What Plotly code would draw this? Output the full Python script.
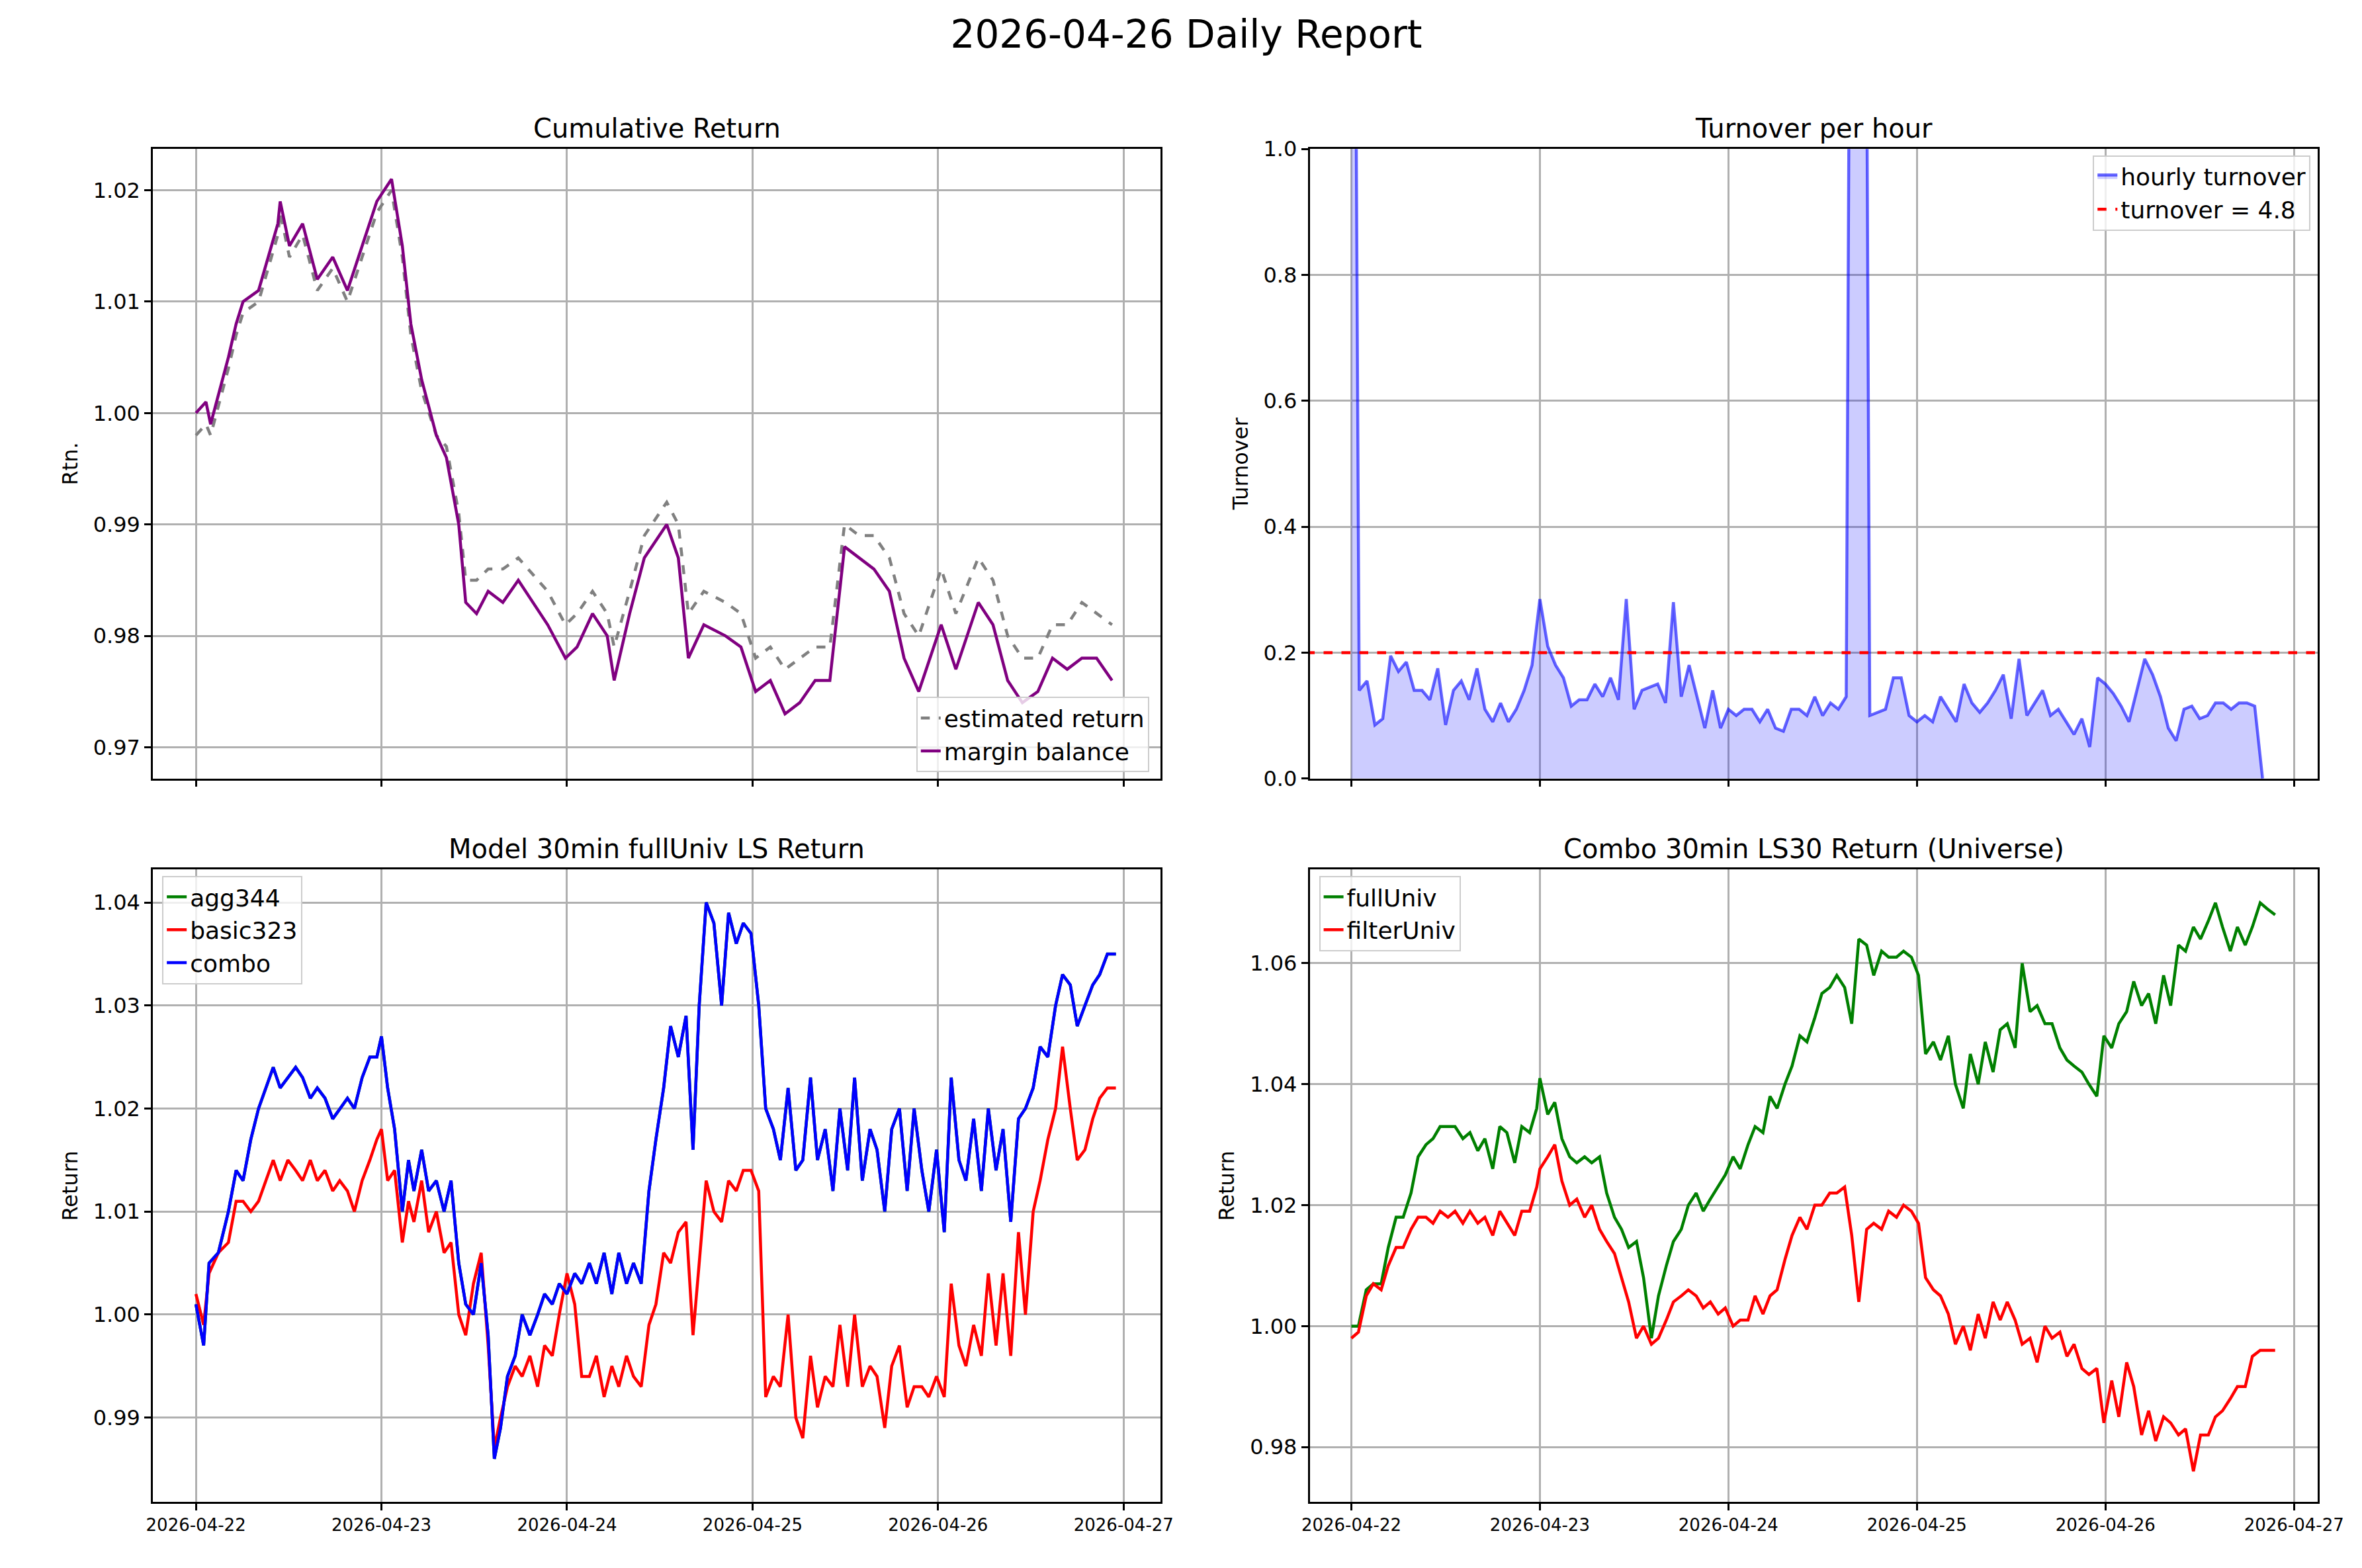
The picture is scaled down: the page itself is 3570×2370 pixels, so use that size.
import pandas as pd
import plotly.graph_objects as go
from plotly.subplots import make_subplots

# ---- data ----
T0 = pd.Timestamp("2026-04-22 00:00")

cum_hours = [0, 1.3, 1.9, 4.2, 5.2, 6.1, 8.1, 10.6, 10.9, 12.1, 13.8, 15.7, 17.7, 19.6, 21.5, 23.4, 25.3, 26.7,
             27.8, 29.2, 31.1, 32.4, 34, 34.9, 36.3, 37.8, 39.7, 41.7, 45.5, 47.8, 49.3, 51.3, 53.2, 54.1, 56.1,
             58, 60.9, 62.4, 63.7, 65.7, 68.5, 70.5, 72.4, 74.3, 76.2, 78.1, 80.1, 82, 83.9, 85.8, 87.7, 89.7,
             91.6, 93.5, 96.4, 98.3, 101.2, 103.1, 105, 106.9, 108.9, 110.8, 112.7, 114.6, 116.5, 118.5]
margin_balance = [1.000, 1.001, 0.999, 1.005, 1.008, 1.010, 1.011, 1.017, 1.019, 1.015, 1.017, 1.012, 1.014, 1.011,
                  1.015, 1.019, 1.021, 1.015, 1.008, 1.003, 0.998, 0.996, 0.990, 0.983, 0.982, 0.984, 0.983, 0.985,
                  0.981, 0.978, 0.979, 0.982, 0.980, 0.976, 0.982, 0.987, 0.990, 0.987, 0.978, 0.981, 0.980, 0.979,
                  0.975, 0.976, 0.973, 0.974, 0.976, 0.976, 0.988, 0.987, 0.986, 0.984, 0.978, 0.975, 0.981, 0.977,
                  0.983, 0.981, 0.976, 0.974, 0.975, 0.978, 0.977, 0.978, 0.978, 0.976]
estimated_return = [0.998, 0.999, 0.998, 1.004, 1.007, 1.009, 1.010, 1.016, 1.018, 1.014, 1.016, 1.011, 1.013, 1.010,
                    1.014, 1.018, 1.020, 1.014, 1.007, 1.002, 0.998, 0.997, 0.991, 0.985, 0.985, 0.986, 0.986, 0.987,
                    0.984, 0.981, 0.982, 0.984, 0.982, 0.979, 0.984, 0.989, 0.992, 0.990, 0.982, 0.984, 0.983, 0.982,
                    0.978, 0.979, 0.977, 0.978, 0.979, 0.979, 0.990, 0.989, 0.989, 0.987, 0.982, 0.980, 0.986, 0.982,
                    0.987, 0.985, 0.980, 0.978, 0.978, 0.981, 0.981, 0.983, 0.982, 0.981]

hourly_turnover = [2.5, 0.14, 0.155, 0.085, 0.095, 0.195, 0.17, 0.185, 0.14, 0.14, 0.125, 0.175, 0.085, 0.14, 0.155,
                   0.125, 0.175, 0.11, 0.09, 0.12, 0.09, 0.11, 0.14, 0.18, 0.285, 0.21, 0.18, 0.16, 0.115, 0.125,
                   0.125, 0.15, 0.13, 0.16, 0.125, 0.285, 0.11, 0.14, 0.145, 0.15, 0.12, 0.28, 0.13, 0.18, 0.13,
                   0.08, 0.14, 0.08, 0.11, 0.1, 0.11, 0.11, 0.09, 0.11, 0.08, 0.075, 0.11, 0.11, 0.1, 0.13, 0.1,
                   0.12, 0.11, 0.13, 2.8, 2.8,
                   0.1, 0.105, 0.11, 0.16, 0.16, 0.1, 0.09, 0.1, 0.09, 0.13, 0.11, 0.09, 0.15, 0.12, 0.105, 0.12,
                   0.14, 0.165, 0.095, 0.19, 0.1, 0.12, 0.14, 0.1, 0.11, 0.09, 0.07, 0.095, 0.05, 0.16, 0.15, 0.135,
                   0.115, 0.09, 0.14, 0.19, 0.165, 0.13, 0.08, 0.06, 0.11, 0.115, 0.095, 0.1, 0.12, 0.12, 0.11, 0.12,
                   0.12, 0.115, 0.0]
turnover_limit = 0.2

model_hours = [0, 1, 1.7, 2.9, 4.2, 5.2, 6.1, 7.1, 8.1, 9, 10, 10.9, 11.9, 12.9, 13.8, 14.8, 15.7, 16.7, 17.7, 18.6,
               19.6, 20.5, 21.5, 22.5, 23.4, 24, 24.8, 25.7, 26.7, 27.5, 28.2, 29.2, 30.1, 31.1, 32.1, 33, 34, 34.9,
               35.9, 36.9, 37.8, 38.6, 39.4, 40.3, 41.3, 42.2, 43.2, 44.2, 45.1, 46.1, 47, 48, 49, 49.9, 50.9, 51.8,
               52.8, 53.8, 54.7, 55.7, 56.6, 57.6, 58.6, 59.5, 60.5, 61.4, 62.4, 63.4, 64.3, 65.1, 66, 67, 68, 68.9,
               69.9, 70.8, 71.8, 72.8, 73.7, 74.7, 75.6, 76.6, 77.6, 78.5, 79.5, 80.4, 81.4, 82.4, 83.3, 84.3, 85.2,
               86.2, 87.2, 88.1, 89.1, 90, 91, 92, 92.9, 93.9, 94.8, 95.8, 96.8, 97.7, 98.7, 99.6, 100.6, 101.6,
               102.5, 103.5, 104.4, 105.4, 106.4, 107.3, 108.3, 109.2, 110.2, 111.2, 112.1, 113.1, 114, 115, 116,
               116.9, 117.9, 119]
combo = [1.001, 0.997, 1.005, 1.006, 1.010, 1.014, 1.013, 1.017, 1.020, 1.022, 1.024, 1.022, 1.023, 1.024, 1.023,
         1.021, 1.022, 1.021, 1.019, 1.020, 1.021, 1.020, 1.023, 1.025, 1.025, 1.027, 1.022, 1.018, 1.010, 1.015,
         1.012, 1.016, 1.012, 1.013, 1.010, 1.013, 1.005, 1.001, 1.000, 1.005, 0.998, 0.986, 0.989, 0.994, 0.996,
         1.000, 0.998, 1.000, 1.002, 1.001, 1.003, 1.002, 1.004, 1.003, 1.005, 1.003, 1.006, 1.002, 1.006, 1.003,
         1.005, 1.003, 1.012, 1.017, 1.022, 1.028, 1.025, 1.029, 1.016, 1.030, 1.040, 1.038, 1.030, 1.039, 1.036,
         1.038, 1.037, 1.030, 1.020, 1.018, 1.015, 1.022, 1.014, 1.015, 1.023, 1.015, 1.018, 1.012, 1.020, 1.014,
         1.023, 1.013, 1.018, 1.016, 1.010, 1.018, 1.020, 1.012, 1.020, 1.014, 1.010, 1.016, 1.008, 1.023, 1.015,
         1.013, 1.019, 1.012, 1.020, 1.014, 1.018, 1.009, 1.019, 1.020, 1.022, 1.026, 1.025, 1.030, 1.033, 1.032,
         1.028, 1.030, 1.032, 1.033, 1.035, 1.035]
agg344 = list(combo)  # hidden underneath combo in the reference
basic323 = [1.002, 0.999, 1.004, 1.006, 1.007, 1.011, 1.011, 1.010, 1.011, 1.013, 1.015, 1.013, 1.015, 1.014, 1.013,
            1.015, 1.013, 1.014, 1.012, 1.013, 1.012, 1.010, 1.013, 1.015, 1.017, 1.018, 1.013, 1.014, 1.007, 1.011,
            1.009, 1.013, 1.008, 1.010, 1.006, 1.007, 1.000, 0.998, 1.003, 1.006, 0.997, 0.987, 0.990, 0.993, 0.995,
            0.994, 0.996, 0.993, 0.997, 0.996, 1.000, 1.004, 1.001, 0.994, 0.994, 0.996, 0.992, 0.995, 0.993, 0.996,
            0.994, 0.993, 0.999, 1.001, 1.006, 1.005, 1.008, 1.009, 0.998, 1.005, 1.013, 1.010, 1.009, 1.013, 1.012,
            1.014, 1.014, 1.012, 0.992, 0.994, 0.993, 1.000, 0.990, 0.988, 0.996, 0.991, 0.994, 0.993, 0.999, 0.993,
            1.000, 0.993, 0.995, 0.994, 0.989, 0.995, 0.997, 0.991, 0.993, 0.993, 0.992, 0.994, 0.992, 1.003, 0.997,
            0.995, 0.999, 0.996, 1.004, 0.997, 1.004, 0.996, 1.008, 1.000, 1.010, 1.013, 1.017, 1.020, 1.026, 1.020,
            1.015, 1.016, 1.019, 1.021, 1.022, 1.022]

univ_hours = [0, 0.9, 1.9, 2.8, 3.8, 4.7, 5.7, 6.6, 7.6, 8.5, 9.5, 10.4, 11.3, 12.3, 13.2, 14.2, 15.1, 16.1, 17, 18,
              18.9, 19.8, 20.8, 21.7, 22.7, 23.6, 24.0,
              25.0, 25.9, 26.8, 27.8, 28.7, 29.7, 30.6, 31.6, 32.5, 33.5, 34.4, 35.3, 36.3, 37.2, 38.2, 39.1, 40.1,
              41.0, 42.0, 42.9, 43.9, 44.8, 45.7, 46.7, 47.6, 48.6, 49.5, 50.5, 51.4, 52.4, 53.3, 54.2, 55.2, 56.1,
              57.1, 58.0, 59.0, 59.9, 60.9, 61.8, 62.8, 63.7, 64.6, 65.6, 66.5, 67.5, 68.4, 69.4, 70.3, 71.3, 72.2,
              73.1, 74.1, 75.0, 76.0, 76.9, 77.9, 78.8, 79.8, 80.7, 81.7, 82.6, 83.5, 84.5, 85.4, 86.4, 87.3, 88.3,
              89.2, 90.2, 91.1, 92.0, 93.0, 93.9, 94.9, 95.8, 96.8, 97.7, 98.7, 99.6, 100.6, 101.5, 102.4, 103.4,
              104.3, 105.3, 106.2, 107.2, 108.1, 109.1, 110.0, 110.9, 111.9, 112.8, 113.8, 114.7, 115.7, 116.6, 117.6]
full_univ = [1.000, 1.000, 1.006, 1.007, 1.007, 1.013, 1.018, 1.018, 1.022, 1.028, 1.030, 1.031, 1.033, 1.033, 1.033,
             1.031, 1.032, 1.029, 1.031, 1.026, 1.033, 1.032, 1.027, 1.033, 1.032, 1.036, 1.041, 1.035, 1.037, 1.031,
             1.028, 1.027, 1.028, 1.027, 1.028, 1.022, 1.018, 1.016, 1.013, 1.014, 1.008, 0.998, 1.005, 1.010, 1.014,
             1.016, 1.020, 1.022, 1.019, 1.021, 1.023, 1.025, 1.028, 1.026, 1.030, 1.033, 1.032, 1.038, 1.036, 1.040,
             1.043, 1.048, 1.047, 1.051, 1.055, 1.056, 1.058, 1.056, 1.050, 1.064, 1.063, 1.058, 1.062, 1.061, 1.061,
             1.062, 1.061, 1.058, 1.045, 1.047, 1.044, 1.048, 1.040, 1.036, 1.045, 1.040, 1.047, 1.042, 1.049, 1.050,
             1.046, 1.060, 1.052, 1.053, 1.050, 1.050, 1.046, 1.044, 1.043, 1.042, 1.040, 1.038, 1.048, 1.046, 1.050,
             1.052, 1.057, 1.053, 1.055, 1.050, 1.058, 1.053, 1.063, 1.062, 1.066, 1.064, 1.067, 1.070, 1.066, 1.062,
             1.066, 1.063, 1.066, 1.070, 1.069, 1.068]
filter_univ = [0.998, 0.999, 1.005, 1.007, 1.006, 1.010, 1.013, 1.013, 1.016, 1.018, 1.018, 1.017, 1.019, 1.018,
               1.019, 1.017, 1.019, 1.017, 1.018, 1.015, 1.019, 1.017, 1.015, 1.019, 1.019, 1.023, 1.026, 1.028,
               1.030, 1.024, 1.020, 1.021, 1.018, 1.020, 1.016, 1.014, 1.012, 1.008, 1.004, 0.998, 1.000, 0.997,
               0.998, 1.001, 1.004, 1.005, 1.006, 1.005, 1.003, 1.004, 1.002, 1.003, 1.000, 1.001, 1.001, 1.005,
               1.002, 1.005, 1.006, 1.011, 1.015, 1.018, 1.016, 1.020, 1.020, 1.022, 1.022, 1.023, 1.015, 1.004,
               1.016, 1.017, 1.016, 1.019, 1.018, 1.020, 1.019, 1.017, 1.008, 1.006, 1.005, 1.002, 0.997, 1.000,
               0.996, 1.002, 0.998, 1.004, 1.001, 1.004, 1.001, 0.997, 0.998, 0.994, 1.000, 0.998, 0.999, 0.995,
               0.997, 0.993, 0.992, 0.993, 0.984, 0.991, 0.985, 0.994, 0.990, 0.982, 0.986, 0.981, 0.985, 0.984,
               0.982, 0.983, 0.976, 0.982, 0.982, 0.985, 0.986, 0.988, 0.990, 0.990, 0.995, 0.996, 0.996, 0.996]


def to_time(hours):
    return T0 + pd.to_timedelta(hours, unit="h")


LW = 4.5
fig = make_subplots(rows=2, cols=2,
                    subplot_titles=("Cumulative Return", "Turnover per hour",
                                    "Model 30min fullUniv LS Return", "Combo 30min LS30 Return (Universe)"))

# Cumulative return
fig.add_trace(go.Scatter(x=to_time(cum_hours), y=estimated_return, mode="lines", name="estimated return",
                         line=dict(color="gray", width=LW, dash="dash"), legend="legend"), row=1, col=1)
fig.add_trace(go.Scatter(x=to_time(cum_hours), y=margin_balance, mode="lines", name="margin balance",
                         line=dict(color="purple", width=LW), legend="legend"), row=1, col=1)

# Turnover
t_hours = list(range(len(hourly_turnover)))
fig.add_trace(go.Scatter(x=to_time(t_hours), y=hourly_turnover, mode="lines", name="hourly turnover",
                         line=dict(color="rgba(0,0,255,0.6)", width=LW), fill="tozeroy",
                         fillcolor="rgba(0,0,255,0.2)", legend="legend2"), row=1, col=2)
fig.add_trace(go.Scatter(x=[pd.Timestamp("2026-04-21"), pd.Timestamp("2026-04-28")],
                         y=[turnover_limit, turnover_limit], mode="lines", name="turnover = 4.8",
                         line=dict(color="red", width=LW, dash="dash"), legend="legend2"), row=1, col=2)

# Model returns
fig.add_trace(go.Scatter(x=to_time(model_hours), y=agg344, mode="lines", name="agg344",
                         line=dict(color="green", width=LW), legend="legend3"), row=2, col=1)
fig.add_trace(go.Scatter(x=to_time(model_hours), y=basic323, mode="lines", name="basic323",
                         line=dict(color="red", width=LW), legend="legend3"), row=2, col=1)
fig.add_trace(go.Scatter(x=to_time(model_hours), y=combo, mode="lines", name="combo",
                         line=dict(color="blue", width=LW), legend="legend3"), row=2, col=1)

# Universe returns
fig.add_trace(go.Scatter(x=to_time(univ_hours), y=full_univ, mode="lines", name="fullUniv",
                         line=dict(color="green", width=LW), legend="legend4"), row=2, col=2)
fig.add_trace(go.Scatter(x=to_time(univ_hours), y=filter_univ, mode="lines", name="filterUniv",
                         line=dict(color="red", width=LW), legend="legend4"), row=2, col=2)

FONT = "DejaVu Sans"
axis_common = dict(showline=True, linecolor="black", linewidth=2.5, mirror=True, ticks="outside",
                   tickcolor="black", ticklen=10, tickwidth=2.5, showgrid=True, gridcolor="#b0b0b0",
                   gridwidth=2.5, zeroline=False, tickfont=dict(size=32, color="black"))
fig.update_xaxes(**axis_common)
fig.update_yaxes(**axis_common)

dom_x = [[0.060, 0.493], [0.557, 0.990]]
dom_y = [[0.507, 0.915], [0.038, 0.448]]
left_range = ["2026-04-21 18:26", "2026-04-27 04:48"]
right_range = ["2026-04-21 18:42", "2026-04-27 03:00"]
tickvals = pd.date_range("2026-04-22", "2026-04-27", freq="D")

fig.update_layout(
    xaxis=dict(domain=dom_x[0], range=left_range, tickvals=tickvals, showticklabels=False),
    xaxis2=dict(domain=dom_x[1], range=right_range, tickvals=tickvals, showticklabels=False),
    xaxis3=dict(domain=dom_x[0], range=left_range, tickvals=tickvals, tickformat="%Y-%m-%d",
                tickfont=dict(size=26)),
    xaxis4=dict(domain=dom_x[1], range=right_range, tickvals=tickvals, tickformat="%Y-%m-%d",
                tickfont=dict(size=26)),
    yaxis=dict(domain=dom_y[0], range=[0.9672, 1.0237], dtick=0.01, tickformat=".2f",
               title=dict(text="Rtn.", font=dict(size=32), standoff=14)),
    yaxis2=dict(domain=dom_y[0], range=[0, 1.0], dtick=0.2, tickformat=".1f",
                title=dict(text="Turnover", font=dict(size=32), standoff=14)),
    yaxis3=dict(domain=dom_y[1], range=[0.9818, 1.0432], dtick=0.01, tickformat=".2f",
                title=dict(text="Return", font=dict(size=32), standoff=14)),
    yaxis4=dict(domain=dom_y[1], range=[0.9709, 1.0755], dtick=0.02, tickformat=".2f",
                title=dict(text="Return", font=dict(size=32), standoff=14)),
)

legend_style = dict(font=dict(size=36, color="black"), bgcolor="rgba(255,255,255,0.8)",
                    bordercolor="#cccccc", borderwidth=2)
fig.update_layout(
    legend=dict(x=0.488, y=0.511, xanchor="right", yanchor="bottom", **legend_style),
    legend2=dict(x=0.987, y=0.911, xanchor="right", yanchor="top", **legend_style),
    legend3=dict(x=0.064, y=0.444, xanchor="left", yanchor="top", **legend_style),
    legend4=dict(x=0.561, y=0.444, xanchor="left", yanchor="top", **legend_style),
)

for ann in fig.layout.annotations:
    ann.font = dict(size=40, color="black", family=FONT)
    ann.yshift = 6
fig.layout.annotations[0].update(x=sum(dom_x[0]) / 2, y=dom_y[0][1])
fig.layout.annotations[1].update(x=sum(dom_x[1]) / 2, y=dom_y[0][1])
fig.layout.annotations[2].update(x=sum(dom_x[0]) / 2, y=dom_y[1][1])
fig.layout.annotations[3].update(x=sum(dom_x[1]) / 2, y=dom_y[1][1])

fig.update_layout(
    title=dict(text="2026-04-26 Daily Report", x=0.5, xanchor="center", y=0.99, yanchor="top",
               font=dict(size=58, color="black")),
    width=3570, height=2370,
    paper_bgcolor="white", plot_bgcolor="white",
    font=dict(family=FONT, color="black"),
    margin=dict(l=0, r=0, t=0, b=0),
)

fig.write_html("out.html")
